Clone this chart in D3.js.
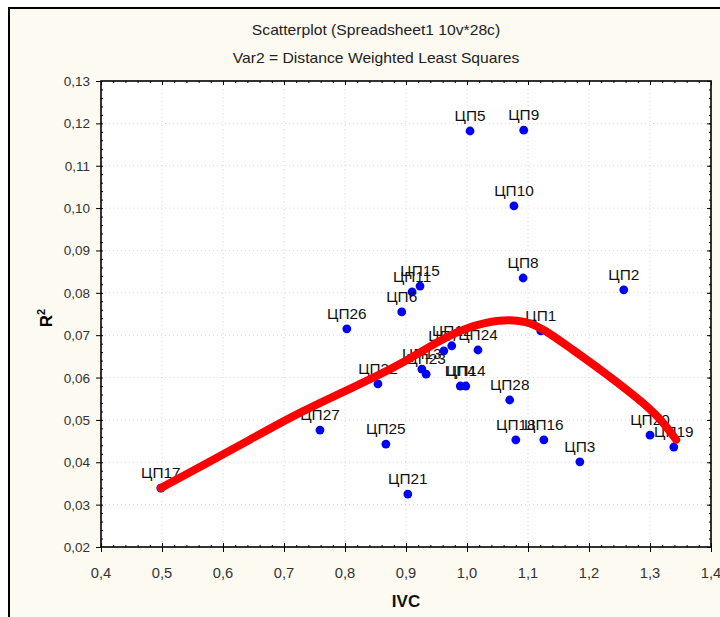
<!DOCTYPE html>
<html><head><meta charset="utf-8">
<script src="https://cdn.jsdelivr.net/npm/d3@7/dist/d3.min.js"></script>
<style>body{margin:0;background:#fff;}svg{display:block;font-family:"Liberation Sans",Arial,sans-serif;}</style>
</head><body>
<script>
const labels = ["ЦП1","ЦП2","ЦП3","ЦП4","ЦП5","ЦП6","ЦП7","ЦП8","ЦП9","ЦП10","ЦП11","ЦП12","ЦП13","ЦП14","ЦП15","ЦП16","ЦП17","ЦП18","ЦП19","ЦП20","ЦП21","ЦП22","ЦП23","ЦП24","ЦП25","ЦП26","ЦП27","ЦП28"];
const ivc = [1.121,1.257,1.185,0.989,1.005,0.893,0.962,1.092,1.093,1.077,0.910,0.975,0.926,0.998,0.923,1.126,0.498,1.080,1.339,1.300,0.903,0.854,0.933,1.018,0.867,0.803,0.759,1.070];
const r2 = [0.0710,0.0807,0.0401,0.0580,0.1182,0.0755,0.0663,0.0835,0.1184,0.1005,0.0802,0.0675,0.0620,0.0580,0.0816,0.0453,0.0339,0.0453,0.0436,0.0464,0.0325,0.0585,0.0608,0.0665,0.0443,0.0715,0.0476,0.0547];
const fitX = [0.498,0.562,0.644,0.726,0.836,0.890,0.956,1.000,1.054,1.098,1.128,1.169,1.218,1.284,1.316,1.343];
const fitY = [0.0339,0.0389,0.0453,0.0519,0.0592,0.0630,0.0689,0.0719,0.0738,0.0734,0.0712,0.0670,0.0620,0.0547,0.0505,0.0453];
const xTicks = [0.4,0.5,0.6,0.7,0.8,0.9,1.0,1.1,1.2,1.3,1.4];
const yTicks = [0.02,0.03,0.04,0.05,0.06,0.07,0.08,0.09,0.10,0.11,0.12,0.13];
const title1 = "Scatterplot (Spreadsheet1 10v*28c)";
const title2 = "Var2 = Distance Weighted Least Squares";

const W = 720, H = 617;
const L = 101, R = 711, T = 81, B = 547;
const FONT = "'Liberation Sans',Arial,sans-serif";
const svg = d3.select("body").append("svg").attr("width", W).attr("height", H);
svg.append("rect").attr("x",9).attr("y",8).attr("width",W).attr("height",H).attr("fill","#fdfaf1").attr("stroke","#000").attr("stroke-width",2);

const x = d3.scaleLinear().domain([0.4,1.4]).range([L,R]);
const y = d3.scaleLinear().domain([0.02,0.13]).range([B,T]);
const fmt = v => d3.format(".1f")(v).replace(".", ",");
const fmtY = v => d3.format(".2f")(v).replace(".", ",");

// horizontally stretched text helper
function stext(parent, px, py, str, size, sx, opts={}) {
  const t = parent.append("text")
    .attr("transform", `translate(${px},${py}) scale(${sx},1)`)
    .attr("text-anchor", opts.anchor || "middle")
    .attr("font-size", size).attr("font-family", FONT)
    .attr("fill", opts.fill || "#111")
    .attr("font-weight", opts.weight || "normal")
    .text(str);
  return t;
}

svg.append("rect").attr("x",L).attr("y",T).attr("width",R-L).attr("height",B-T).attr("fill","#fff");

// grid
const g = svg.append("g");
g.selectAll(".gx").data(xTicks.slice(1,-1)).join("line")
  .attr("x1",d=>x(d)).attr("x2",d=>x(d)).attr("y1",T).attr("y2",B)
  .attr("stroke","#d8d8d8").attr("stroke-dasharray","1,3");
g.selectAll(".gy").data(yTicks.slice(1,-1)).join("line")
  .attr("y1",d=>y(d)).attr("y2",d=>y(d)).attr("x1",L).attr("x2",R)
  .attr("stroke","#d8d8d8").attr("stroke-dasharray","1,3");

// axes (ticks via d3 axes, labels drawn stretched)
const axB = svg.append("g").attr("transform",`translate(0,${B})`)
  .call(d3.axisBottom(x).tickValues(xTicks).tickFormat("").tickSize(5));
const axL = svg.append("g").attr("transform",`translate(${L},0)`)
  .call(d3.axisLeft(y).tickValues(yTicks).tickFormat("").tickSize(5));
const axT = svg.append("g").attr("transform",`translate(0,${T})`)
  .call(d3.axisBottom(x).tickValues(xTicks).tickFormat("").tickSize(4));
const axR = svg.append("g").attr("transform",`translate(${R},0)`)
  .call(d3.axisLeft(y).tickValues(yTicks).tickFormat("").tickSize(4));
const minX = d3.range(0.42,1.4,0.02), minY = d3.range(0.022,0.13,0.002);
svg.append("g").attr("transform",`translate(0,${B})`).call(d3.axisTop(x).tickValues(minX).tickFormat("").tickSize(2)).select(".domain").remove();
svg.append("g").attr("transform",`translate(0,${B})`).call(d3.axisTop(x).tickValues(xTicks).tickFormat("").tickSize(4)).select(".domain").remove();
svg.append("g").attr("transform",`translate(${L},0)`).call(d3.axisRight(y).tickValues(minY).tickFormat("").tickSize(2)).select(".domain").remove();
svg.append("g").attr("transform",`translate(0,${T})`).call(d3.axisBottom(x).tickValues(minX).tickFormat("").tickSize(2)).select(".domain").remove();
svg.append("g").attr("transform",`translate(${R},0)`).call(d3.axisLeft(y).tickValues(minY).tickFormat("").tickSize(2)).select(".domain").remove();
[axB,axL,axT,axR].forEach(a=>a.select(".domain").remove());
svg.append("rect").attr("x",L).attr("y",T).attr("width",R-L).attr("height",B-T).attr("fill","none").attr("stroke","#000").attr("stroke-width",1.6);

const tl = svg.append("g");
xTicks.forEach(v => stext(tl, x(v), 578, fmt(v), 14, 1.05, {fill:"#333"}));
yTicks.forEach(v => stext(tl, 90, y(v)+5, fmtY(v), 13.5, 1.0, {fill:"#333", anchor:"end"}));

// titles
stext(svg, 376, 35, title1, 14, 1.12, {fill:"#222"});
stext(svg, 376, 63, title2, 14, 1.12, {fill:"#222"});
stext(svg, (L+R)/2, 607, "IVC", 17, 1.0, {weight:"bold", fill:"#111"});
const rt = svg.append("text").attr("transform",`translate(52,318) rotate(-90)`).attr("text-anchor","middle").attr("font-size",17).attr("font-weight","bold").attr("font-family",FONT);
rt.append("tspan").text("R");
rt.append("tspan").attr("dy",-7).attr("font-size",11).text("2");

// points + labels
const pts = labels.map((l,i)=>({l, x:ivc[i], y:r2[i]}));
svg.append("g").selectAll("circle").data(pts).join("circle")
  .attr("cx",d=>x(d.x)).attr("cy",d=>y(d.y)).attr("r",4.4).attr("fill","#0000ff");
const lg = svg.append("g");
pts.forEach(d => stext(lg, x(d.x), y(d.y)-10, d.l, 14, 1.1, {fill:"#111"}));

// fit curve
const fit = fitX.map((v,i)=>[v,fitY[i]]);
svg.append("path").datum(fit)
  .attr("d", d3.line().x(d=>x(d[0])).y(d=>y(d[1])).curve(d3.curveBasis))
  .attr("fill","none").attr("stroke","#ff0000").attr("stroke-width",8).attr("stroke-linecap","round");
</script>
</body></html>
